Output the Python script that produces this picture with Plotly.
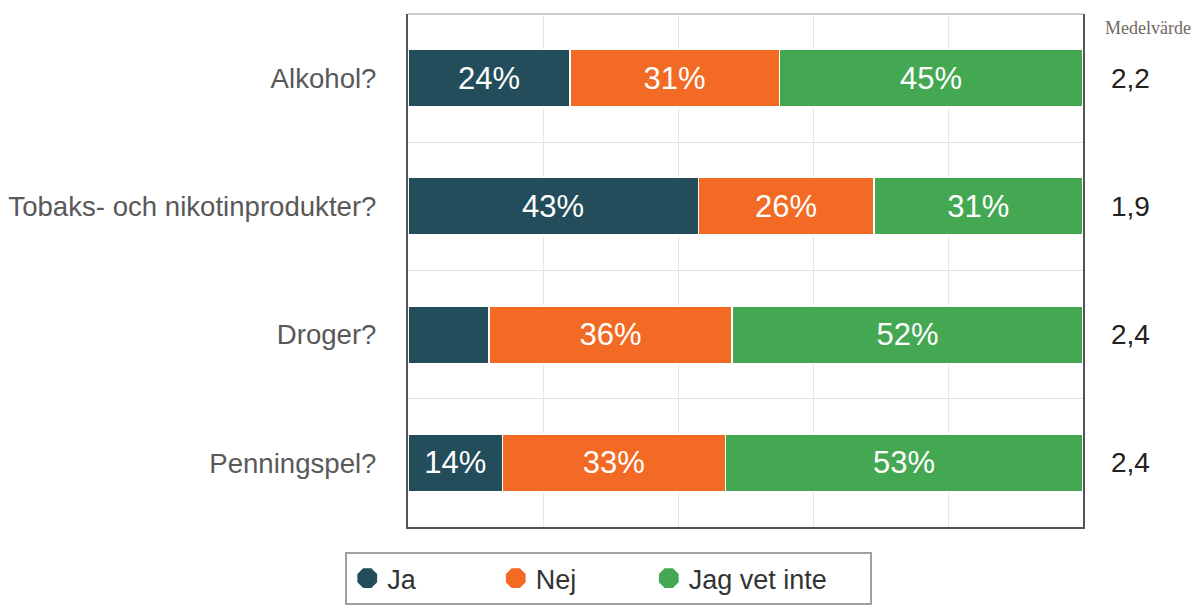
import plotly.graph_objects as go

categories = ["Alkohol?", "Tobaks- och nikotinprodukter?", "Droger?", "Penningspel?"]
series_names = ["Ja", "Nej", "Jag vet inte"]
ja = [24, 43, 12, 14]
nej = [31, 26, 36, 33]
vet_inte = [45, 31, 52, 53]
medelvarde = ["2,2", "1,9", "2,4", "2,4"]
colors = ["#234D5B", "#F26A23", "#44A853"]
legend_pad = [10, 9, 5]  # non-breaking spaces after each legend name

FONT = "Liberation Sans, Arial, sans-serif"

fig = go.Figure()
for name, vals, col, pad in zip(series_names, [ja, nej, vet_inte], colors, legend_pad):
    labels = [f"{v}%" if v >= 13 else "" for v in vals]
    fig.add_trace(go.Bar(
        y=categories, x=vals, name=name, orientation="h",
        marker=dict(color=col, line=dict(color="white", width=1.5)),
        text=labels, textposition="inside", insidetextanchor="middle",
        textangle=0, constraintext="none",
        textfont=dict(family=FONT, size=31, color="white"),
        showlegend=False, hoverinfo="skip",
    ))
    fig.add_trace(go.Scatter(
        x=[None], y=[None], mode="markers", name=name + "\u00a0" * pad,
        marker=dict(symbol="octagon", size=16, color=col, line=dict(color=col, width=5)),
        showlegend=True,
    ))

for cat, m in zip(categories, medelvarde):
    fig.add_annotation(x=1.07, xref="paper", y=cat, yref="y", text=m,
                       showarrow=False, xanchor="center",
                       font=dict(family=FONT, size=28, color="#222222"))
fig.add_annotation(x=1.096, xref="paper", y=0.973, yref="paper", text="Medelvärde",
                   showarrow=False, xanchor="center", yanchor="middle",
                   font=dict(family="Liberation Serif, Times New Roman, serif", size=18, color="#706860"))

# light top border of the plot area
fig.add_shape(type="line", xref="paper", yref="paper", x0=0, x1=1, y0=1, y1=1,
              line=dict(color="#CCCCCC", width=2), layer="above")

fig.update_layout(
    width=1196, height=610,
    barmode="stack", bargap=0.55,
    margin=dict(l=408, r=113, t=14, b=83, autoexpand=False),
    plot_bgcolor="white", paper_bgcolor="white",
    font=dict(family=FONT),
    legend=dict(
        orientation="h", x=-0.093, xanchor="left", y=-0.049, yanchor="top",
        traceorder="normal",
        font=dict(family=FONT, size=27, color="#333333"),
        bordercolor="#A0A0A0", borderwidth=2, bgcolor="white",
        itemsizing="trace",
    ),
)
fig.update_xaxes(range=[0, 100], dtick=20, showticklabels=False,
                 showgrid=True, gridcolor="#E6E6E6", gridwidth=1,
                 zeroline=False, showline=True, linecolor="#555555", linewidth=2,
                 mirror=False, fixedrange=True)
fig.update_yaxes(type="category", categoryorder="array", categoryarray=categories,
                 autorange="reversed", tickson="boundaries", ticks="",
                 showgrid=True, gridcolor="#E0E0E0", gridwidth=1,
                 showline=True, linecolor="#555555", linewidth=2, mirror=True,
                 ticklabelstandoff=24,
                 tickfont=dict(family=FONT, size=27.6, color="#595959"))

fig.write_html("out.html", config={"displayModeBar": False},
               post_script="document.body.style.margin='0';document.body.style.padding='0';")
